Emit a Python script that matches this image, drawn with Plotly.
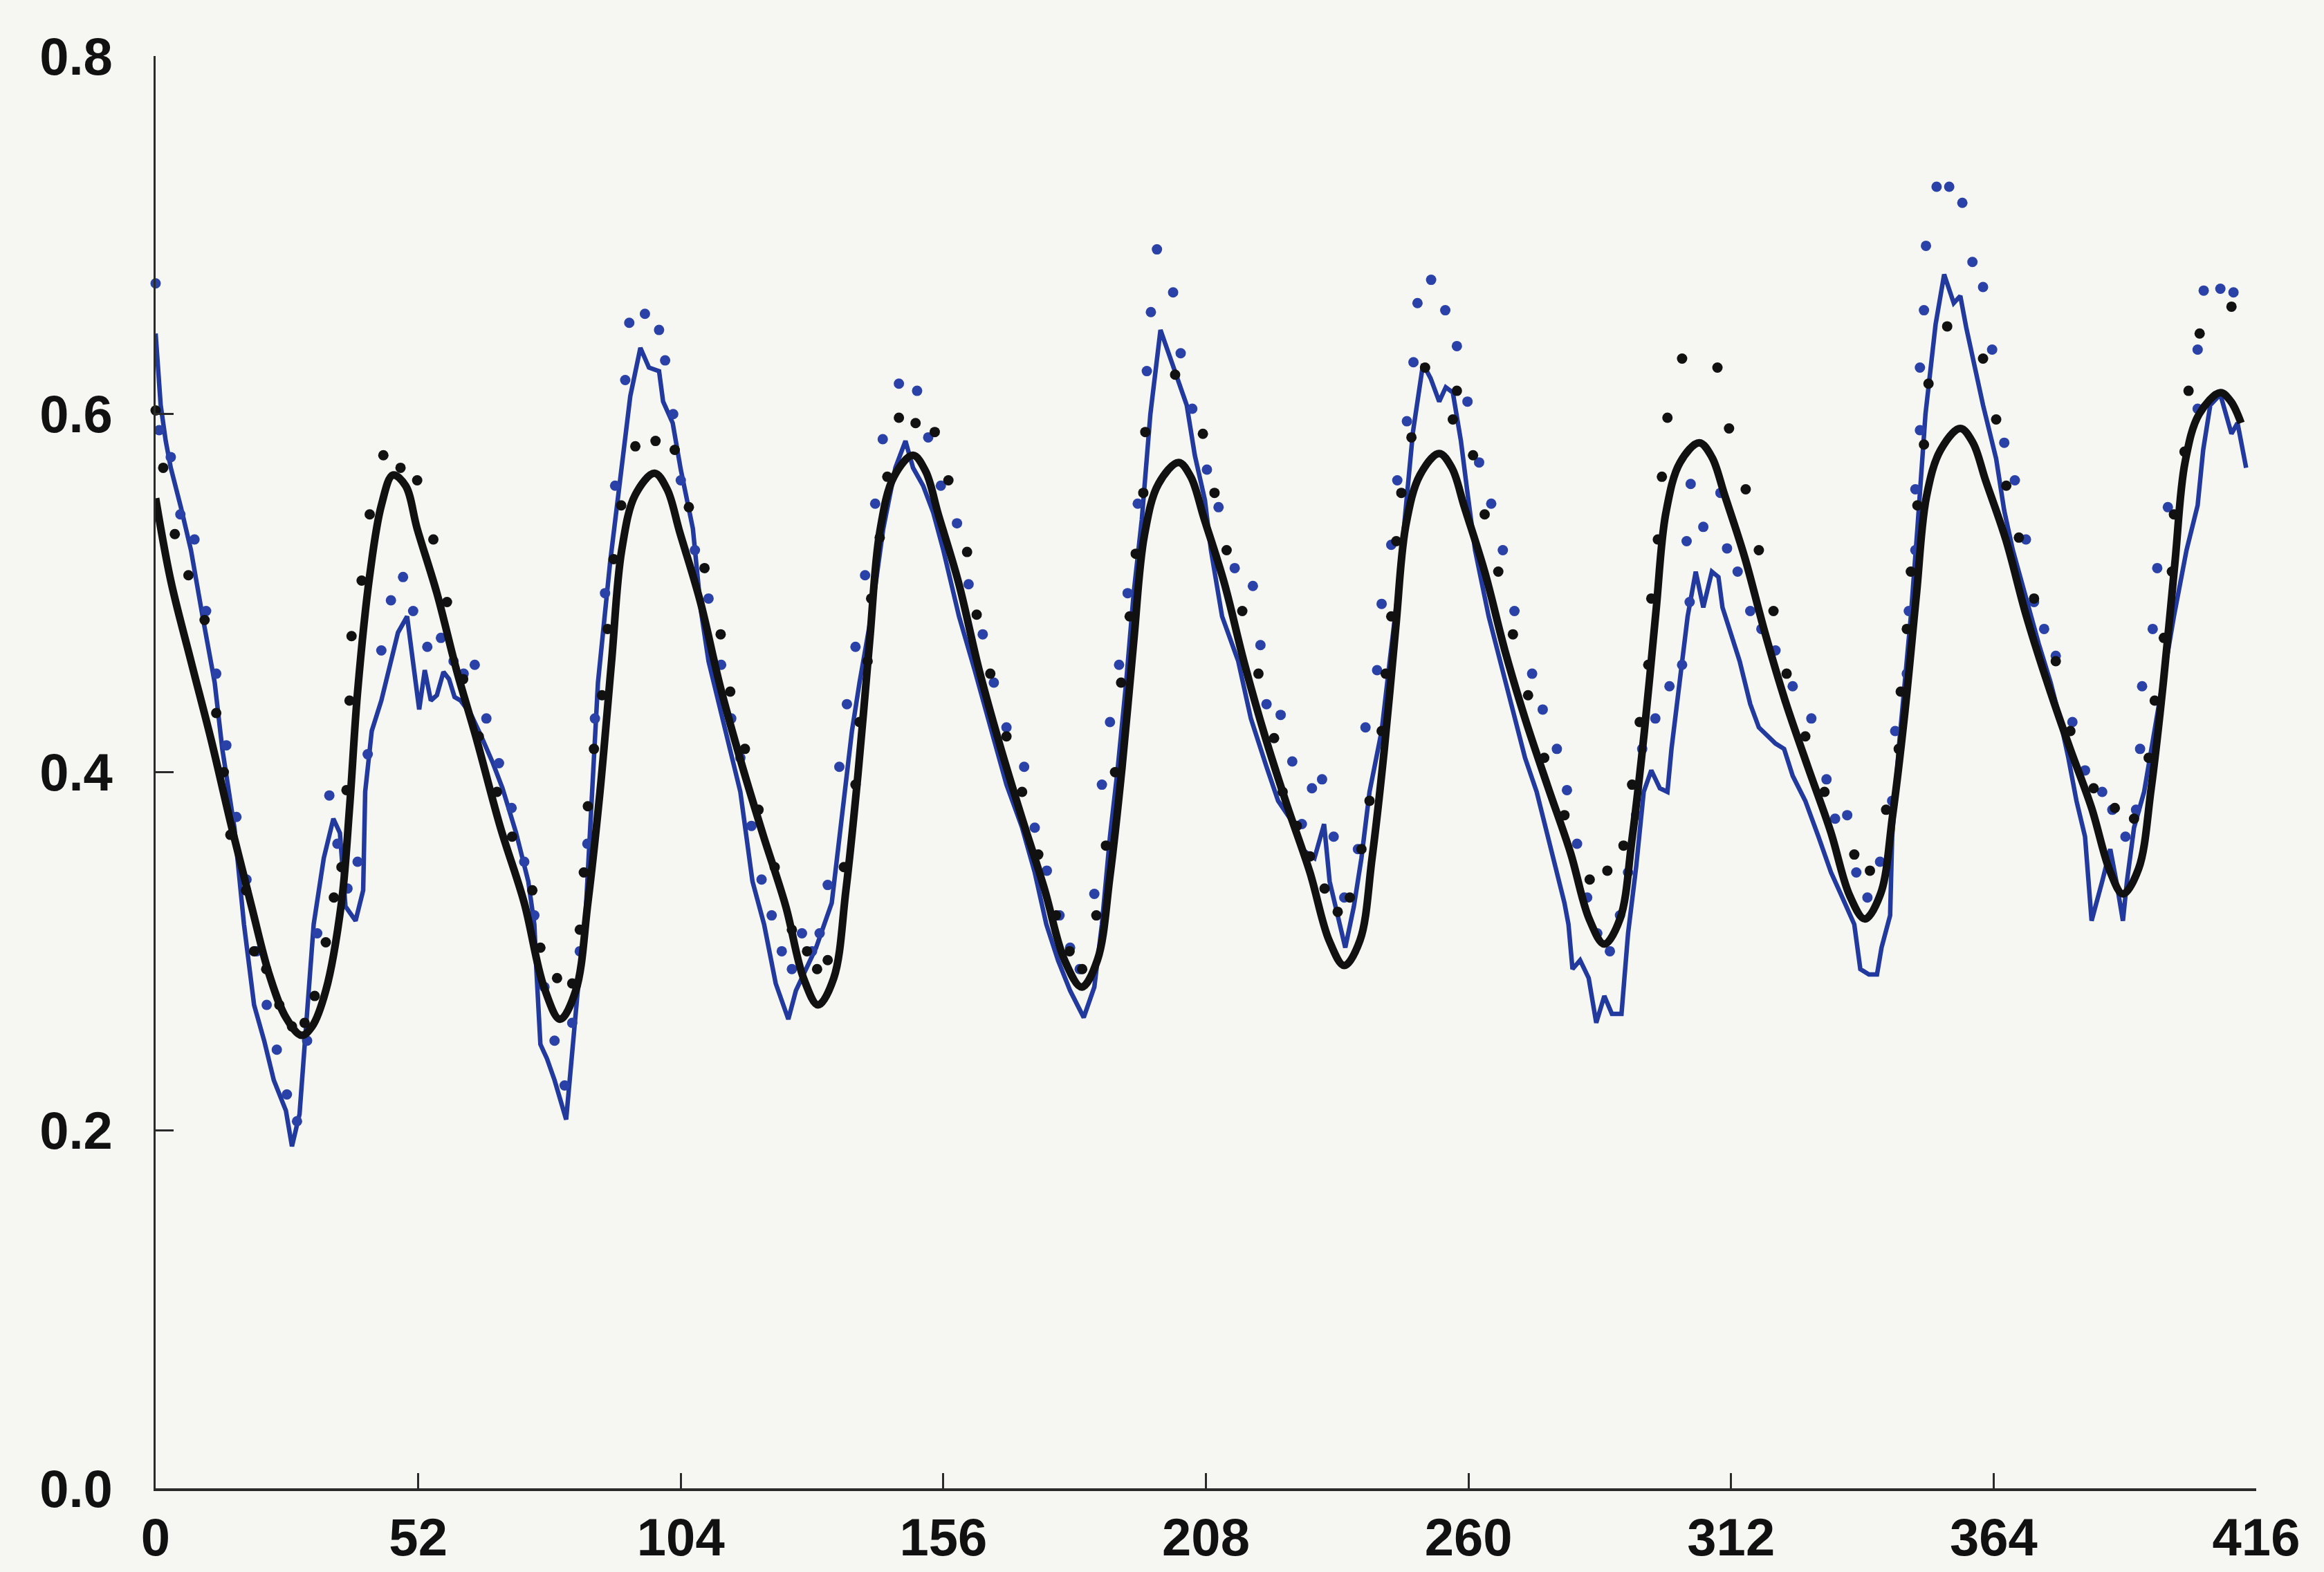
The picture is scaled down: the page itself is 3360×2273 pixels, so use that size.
import plotly.graph_objects as go

# ---- data ----
x_ticks = [0, 52, 104, 156, 208, 260, 312, 364, 416]
y_ticks = [0.0, 0.2, 0.4, 0.6, 0.8]
y_tick_text = ["0.0", "0.2", "0.4", "0.6", "0.8"]

# smooth black fitted curve (key points)
fit_x = [0, 3, 7, 11, 15, 19, 22.5, 25.8, 28.9, 31, 33.7, 36.8, 38.4, 40, 42.4, 44.7, 47,
         49.5, 51.8, 55.7, 59.6, 63.6, 68.3, 73, 76.9, 80.1, 83.2, 85.6, 88, 90.3, 92.3, 95, 98.8,
         101.3, 103.8, 107.8, 111.8, 115.8, 120.3, 124.8, 128.3, 131.2, 134.3, 136.7, 139.1, 141.4, 143.4, 146.2, 150,
         152.5, 155, 159, 163, 167, 171.5, 176, 180, 183.4, 186.5, 189, 191.4, 193.7, 195.8, 198.6, 202.6,
         205, 207.6, 211.6, 215.6, 219.6, 224, 228.6, 232.4, 235.4, 238.5, 240.9, 243.3, 245.6, 247.6, 250.4, 254.2,
         256.7, 259.2, 263.2, 267.2, 271.2, 275.7, 280.2, 283.9, 286.9, 290, 292.4, 294.8, 297.1, 299.1, 301.9, 305.7,
         308.2, 310.7, 314.7, 318.7, 322.7, 327.2, 331.7, 335.5, 338.5, 341.6, 344, 346.4, 348.7, 350.7, 353.5, 357.4,
         359.9, 362.4, 366.4, 370.4, 374.4, 378.9, 383.4, 387, 389.6, 392.7, 395.2, 397.6, 399.9, 401.9, 404.7, 408.9, 411, 413]
fit_y = [0.553, 0.507, 0.462, 0.418, 0.37, 0.325, 0.287, 0.263, 0.253, 0.258, 0.278, 0.327, 0.38, 0.445, 0.51, 0.549, 0.566,
         0.56, 0.536, 0.5, 0.457, 0.418, 0.369, 0.327, 0.28, 0.262, 0.278, 0.327, 0.389, 0.462, 0.524, 0.555, 0.567,
         0.558, 0.534, 0.496, 0.448, 0.407, 0.365, 0.325, 0.285, 0.27, 0.285, 0.334, 0.399, 0.473, 0.534, 0.565, 0.577,
         0.568, 0.544, 0.506, 0.458, 0.417, 0.375, 0.335, 0.295, 0.28, 0.295, 0.342, 0.403, 0.473, 0.532, 0.561, 0.573,
         0.565, 0.542, 0.506, 0.461, 0.421, 0.382, 0.344, 0.306, 0.292, 0.306, 0.352, 0.412, 0.481, 0.538, 0.566, 0.578,
         0.570, 0.548, 0.512, 0.468, 0.430, 0.392, 0.355, 0.318, 0.304, 0.318, 0.363, 0.422, 0.489, 0.545, 0.573, 0.584,
         0.576, 0.555, 0.520, 0.478, 0.440, 0.403, 0.367, 0.331, 0.318, 0.332, 0.376, 0.433, 0.499, 0.554, 0.58, 0.592,
         0.584, 0.563, 0.530, 0.488, 0.452, 0.415, 0.380, 0.345, 0.332, 0.346, 0.391, 0.45, 0.517, 0.573, 0.6, 0.612, 0.607, 0.595]

# jagged blue line (x, y)
blue_line = [
    (0, .645), (1, .605), (2, .585), (3, .57), (5, .548), (7, .524), (9.3, .487), (11.7, .45), (13.2, .413),
    (15.6, .369), (17.5, .315), (19.5, .27), (21.5, .25), (23.4, .228), (25.8, .211), (27, .191), (28.5, .209),
    (29.7, .253), (31.3, .315), (33.3, .352), (35.2, .374), (36.5, .366), (37.6, .325), (39.6, .317), (41.1, .334),
    (41.5, .389), (42.8, .423), (44.7, .44), (46.5, .46), (48, .478), (49.8, .487), (51, .462), (52.2, .435),
    (53.3, .457), (54.5, .44), (55.7, .443), (57, .456), (58.1, .452), (59.2, .442), (60.4, .44), (62.5, .432),
    (64.5, .42), (66.8, .405), (68.7, .391), (71.4, .366), (73.8, .339), (75, .315), (75.4, .29), (76.2, .248),
    (77.5, .24), (79, .228), (81.3, .206), (82.5, .246), (83.6, .278), (84.8, .302), (86.4, .384), (87.6, .45),
    (90, .517), (92, .565), (94, .61), (96, .637), (97.7, .626), (99.7, .624), (100.5, .607), (102.4, .595),
    (104, .569), (106.4, .536), (108, .49), (109.5, .462), (112.7, .425), (115.8, .389), (118.2, .339),
    (120.5, .315), (122.8, .282), (125.3, .262), (126.8, .278), (129.1, .292), (130.8, .302), (133.9, .327),
    (135.9, .376), (137.9, .423), (139.4, .45), (141.7, .487), (144.1, .536), (146.5, .57), (148.5, .585),
    (150, .57), (152, .56), (154, .545), (156, .524), (159.1, .487), (162.2, .457), (165.3, .425), (168.5, .393),
    (171.6, .369), (174.1, .344), (176.4, .315), (178.7, .295), (181.1, .278), (183.8, .263), (185.9, .28),
    (187.4, .315), (189, .364), (190.5, .401), (192.2, .45), (193.7, .5), (195.3, .541), (197, .6), (199, .647),
    (200.5, .635), (201.9, .622), (203, .615), (204.2, .605), (205.8, .577), (207.8, .552), (209, .524),
    (211.2, .487), (214.4, .462), (216.9, .43), (220, .403), (222.3, .384), (224.7, .374), (227, .357),
    (229.5, .352), (231.4, .371), (232.5, .339), (234.1, .32), (235.6, .302), (237.3, .325), (238.8, .352),
    (240.4, .389), (242.8, .423), (244.4, .462), (246, .5), (247.2, .536), (249, .59), (251, .628), (252.5, .62),
    (254.2, .607), (255.5, .615), (256.9, .612), (258.5, .585), (259.8, .556), (261.3, .524), (264, .487),
    (266.3, .462), (268.8, .433), (271.2, .408), (273.5, .389), (275.8, .364), (277.5, .344), (279, .327),
    (279.8, .315), (280.6, .29), (282.1, .295), (283.8, .285), (285.3, .26), (286.9, .275), (288.4, .265),
    (290.3, .265), (291.6, .31), (293.2, .347), (294.7, .389), (296.2, .401), (297.9, .391), (299.4, .389),
    (300.2, .413), (301.8, .45), (303.4, .487), (305, .512), (306.5, .492), (308.2, .512), (309.5, .509),
    (310.3, .492), (311.6, .48), (313.7, .462), (315.8, .438), (317.5, .425), (320.8, .416), (322.5, .413),
    (324.2, .398), (326.7, .384), (329.3, .364), (331.8, .344), (334.2, .329), (336.4, .315), (337.6, .29),
    (339.3, .287), (340.9, .287), (341.8, .302), (343.5, .32), (343.9, .364), (345.2, .413), (346.4, .45),
    (347.6, .487), (348.9, .536), (350.5, .6), (352.5, .65), (354.2, .678), (356.1, .662), (357.4, .666),
    (358.6, .648), (360.2, .626), (361.9, .605), (364.5, .575), (366.1, .546), (367.8, .524), (370.4, .497),
    (372.9, .472), (375.3, .45), (377.1, .43), (378.8, .408), (380.4, .384), (382.1, .364), (383.4, .317),
    (385.5, .339), (387.1, .357), (388.3, .339), (389.6, .317), (390.4, .339), (391.8, .369), (393.8, .389),
    (395.9, .425), (398.1, .462), (399.7, .487), (402.2, .524), (404.4, .549), (405.5, .58), (406.9, .605),
    (408.9, .611), (411.1, .589), (412.3, .595), (414, .57)]

# blue observation dots (x, y)
blue_dots = [
    (0, .673), (0.7, .591), (3, .576), (4.9, .544), (7.7, .53), (10, .49), (12, .455), (14, .415), (16, .375),
    (18, .34), (20, .3), (22, .27), (24, .245), (26, .22), (28, .205), (30, .25), (32, .31), (34.4, .387),
    (36, .36), (38, .335), (40, .35), (42, .41), (44.7, .468), (46.6, .496), (49, .509), (51, .49), (53.8, .47),
    (56.5, .475), (59, .462), (61, .455), (63.2, .46), (65.5, .43), (68, .405), (70.5, .38), (73, .35), (75, .32),
    (77, .28), (79, .25), (81, .225), (82.5, .26), (84, .3), (85.5, .36), (87, .43), (89, .5), (91, .56),
    (93, .619), (93.8, .651), (96.9, .656), (99.7, .647), (100.9, .63), (102.5, .6), (104, .563), (106.8, .524),
    (109.5, .497), (112, .46), (114, .43), (115.8, .408), (118, .37), (120, .34), (122, .32), (124, .3),
    (126, .29), (128, .31), (130, .3), (131.5, .31), (133.1, .337), (135.4, .403), (136.9, .438), (138.6, .47),
    (140.5, .51), (142.5, .55), (144, .586), (147.2, .617), (150.8, .613), (153, .587), (155.5, .56),
    (158.7, .539), (161, .505), (163.8, .477), (166, .45), (168.5, .425), (172, .403), (174.1, .369),
    (176.5, .345), (179, .32), (181.1, .302), (183, .29), (185.9, .332), (187.4, .393), (189, .428),
    (190.8, .46), (192.5, .5), (194.5, .55), (196.3, .624), (197.1, .657), (198.3, .692), (201.5, .668),
    (203, .634), (205.3, .603), (208.2, .569), (210.5, .548), (213.7, .514), (217.3, .504), (218.8, .471),
    (220, .438), (222.8, .432), (225.1, .406), (227, .371), (229, .391), (231, .396), (233.3, .364),
    (235.4, .33), (238.1, .357), (239.6, .425), (241.9, .457), (242.8, .494), (244.7, .527), (245.9, .563),
    (247.8, .596), (249.1, .629), (249.9, .662), (252.6, .675), (255.4, .658), (257.7, .638), (259.8, .607),
    (262.1, .573), (264.5, .55), (266.8, .524), (269.1, .49), (272.6, .455), (274.7, .435), (277.5, .413),
    (279.5, .39), (281.5, .36), (283.5, .33), (285.5, .31), (288, .3), (290, .32), (291.6, .344), (293.2, .376),
    (294.4, .413), (297, .43), (299.8, .448), (302.3, .46), (303.8, .495), (303.2, .529), (304, .561),
    (306.5, .537), (309.9, .556), (311.2, .525), (313.3, .512), (315.8, .49), (318, .48), (320.8, .468),
    (324.2, .448), (327.9, .43), (330.9, .396), (332.6, .374), (335, .376), (336.8, .344), (339, .33),
    (341.5, .35), (343.9, .384), (344.5, .423), (346.8, .455), (347.2, .49), (348.5, .524), (348.5, .558),
    (349.4, .591), (349.4, .626), (350.2, .658), (350.6, .694), (352.7, .727), (355.2, .727), (357.8, .718),
    (359.8, .685), (361.9, .671), (363.7, .636), (366.1, .584), (368.2, .563), (370.4, .53), (372, .495),
    (374, .48), (376.3, .465), (379.6, .428), (382.1, .401), (385.5, .389), (387.5, .379), (390.1, .364),
    (392.2, .379), (393, .413), (393.4, .448), (395.5, .48), (396.4, .514), (398.5, .548), (404.4, .603),
    (404.4, .636), (405.6, .669), (408.9, .67), (411.5, .668)]

# black observation dots (x, y)
black_dots = [
    (0, .602), (1.5, .57), (3.8, .533), (6.5, .51), (9.7, .485), (12, .433), (13.5, .4), (14.8, .365),
    (17.9, .334), (19.5, .3), (21.9, .29), (24.5, .27), (27, .258), (29.5, .26), (31.5, .275), (33.7, .305),
    (35.3, .33), (36.8, .347), (37.8, .39), (38.4, .44), (38.8, .476), (40.8, .507), (42.4, .544), (45.1, .577),
    (48.5, .57), (51.8, .563), (55, .53), (57.7, .495), (60.9, .452), (64, .42), (67.6, .389), (70.6, .364),
    (74.6, .334), (76.2, .302), (79.5, .285), (82.5, .282), (84, .312), (84.8, .344), (85.6, .381),
    (86.8, .413), (88.4, .443), (89.5, .48), (90.7, .519), (92.2, .549), (95, .582), (99, .585), (102.8, .58),
    (105.6, .548), (108.7, .514), (111.9, .477), (113.8, .445), (116.7, .413), (119.4, .379), (122.6, .347),
    (126, .312), (129, .3), (131, .29), (133.1, .295), (136.3, .347), (138.6, .393), (139.4, .428), (141, .462),
    (141.7, .497), (143.4, .531), (144.9, .565), (147.2, .598), (150.5, .595), (154.3, .59), (157, .563),
    (160.7, .523), (162.6, .488), (165.3, .455), (168.5, .42), (171.6, .389), (174.8, .354), (178.3, .32),
    (181, .3), (183.5, .29), (186.3, .32), (188.2, .359), (190, .4), (191.2, .45), (192.9, .487), (194.1, .522),
    (195.6, .556), (196, .59), (201.9, .622), (207.4, .589), (209.7, .556), (212.1, .524), (215.2, .49),
    (218.4, .455), (221.5, .419), (223.2, .389), (226, .37), (228.6, .353), (231.5, .335), (234.1, .322),
    (236.5, .33), (238.8, .357), (240.4, .384), (242.8, .423), (243.6, .455), (244.7, .487), (245.7, .529),
    (246.7, .556), (248.7, .587), (251.4, .626), (256.9, .597), (257.7, .613), (260.9, .577), (263.2, .544),
    (265.9, .512), (268.8, .477), (271.8, .443), (275, .408), (279, .376), (284, .34), (287.5, .345),
    (290.7, .359), (292.4, .393), (293.9, .428), (295.6, .46), (296.2, .497), (297.5, .53), (298.3, .565),
    (299.4, .598), (302.3, .631), (309.3, .626), (311.6, .592), (314.9, .558), (317.5, .524), (320.4, .49),
    (323, .455), (326.7, .42), (330.5, .389), (336.4, .354), (339.5, .345), (342.7, .379), (345.2, .413),
    (345.6, .445), (346.8, .48), (347.6, .512), (348.9, .549), (350.2, .583), (351.1, .617), (354.8, .649),
    (361.9, .631), (364.5, .597), (366.5, .56), (369, .531), (372, .497), (376.3, .462), (379.2, .423),
    (383.8, .391), (388, .38), (391.8, .374), (394.7, .408), (395.9, .44), (397.7, .475), (399.3, .512),
    (399.7, .544), (401.8, .579), (402.6, .613), (404.8, .645), (411.1, .66)]

# ---- styles ----
BLUE_LINE = "#22399e"
BLUE_DOT = "#2a42a8"
BLACK = "#111111"
BG = "#f6f7f3"
FONT = dict(family="Liberation Sans, Arial, Helvetica, sans-serif",
            size=76, color="#111111", weight="bold")

bl_x, bl_y = zip(*blue_line)
bd_x, bd_y = zip(*blue_dots)
kd_x, kd_y = zip(*black_dots)

fig = go.Figure()
fig.add_trace(go.Scatter(x=bl_x, y=bl_y, mode="lines",
                         line=dict(color=BLUE_LINE, width=6.5), cliponaxis=False))
fig.add_trace(go.Scatter(x=bd_x, y=bd_y, mode="markers",
                         marker=dict(color=BLUE_DOT, size=15, line=dict(width=0)), cliponaxis=False))
fig.add_trace(go.Scatter(x=kd_x, y=kd_y, mode="markers",
                         marker=dict(color=BLACK, size=15, line=dict(width=0)), cliponaxis=False))
fig.add_trace(go.Scatter(x=fit_x, y=fit_y, mode="lines",
                         line=dict(color=BLACK, width=11, shape="spline", smoothing=1.0), cliponaxis=False))

axis_common = dict(showgrid=False, zeroline=False, showline=True, linecolor="#2a2a2a",
                   ticks="inside", tickcolor="#2a2a2a", tickwidth=3, tickfont=FONT,
                   automargin=False)

fig.update_layout(
    width=3360, height=2273,
    margin=dict(l=225, r=98, t=81, b=121, autoexpand=False),
    paper_bgcolor=BG, plot_bgcolor=BG,
    showlegend=False,
    xaxis=dict(range=[0, 416], tickmode="array", tickvals=x_ticks,
               ticktext=[str(v) for v in x_ticks], ticklen=22, linewidth=4,
               ticklabelstandoff=2, **axis_common),
    yaxis=dict(range=[0, 0.8], tickmode="array", tickvals=y_ticks, ticktext=y_tick_text,
               ticklen=26, linewidth=3, ticklabelstandoff=44, **axis_common),
)

fig.write_html("out.html")
